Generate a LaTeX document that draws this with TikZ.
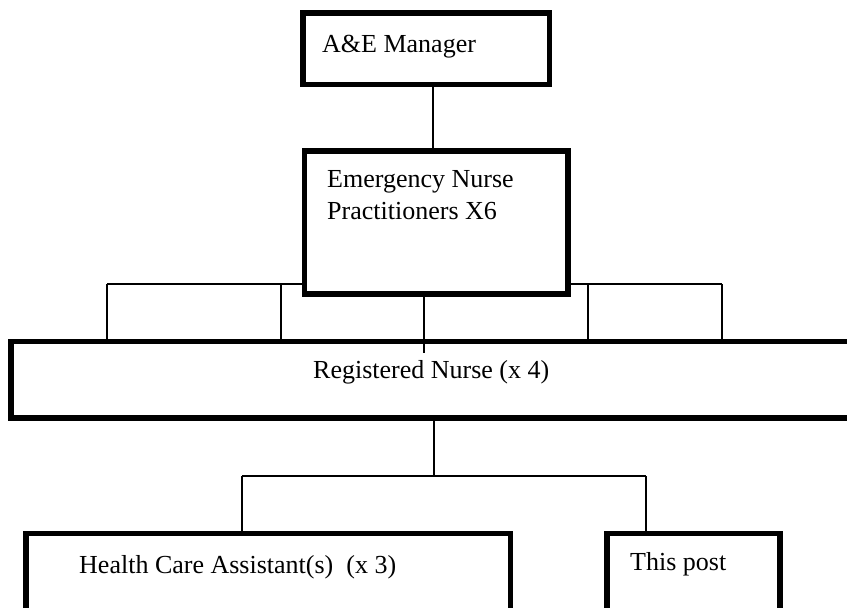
\documentclass[tikz,border=0pt]{standalone}
\usepackage{fontspec}
\setmainfont{Liberation Serif}
\begin{document}
\begin{tikzpicture}[x=1pt,y=-1pt,
  box/.style={draw=black,fill=white,line width=5.7pt,rectangle,inner sep=0pt,minimum width=#1},
  link/.style={draw=black,line width=1.8pt},
  lbl/.style={anchor=base west,inner sep=0pt,font=\fontsize{26}{31}\selectfont}]
\useasboundingbox (0,0) rectangle (847,608);
\clip (0,0) rectangle (847,608);
% boxes (sizes at border centre lines)
\node[box=246.5pt,minimum height=71.5pt] (am) at (426.25,48.75) {};
\node[box=263.5pt,minimum height=143pt] (enp) at (436.25,222.5) {};
\node[box=859pt,minimum height=76.5pt] (rn) at (440.5,379.75) {};
\node[box=484.5pt,minimum height=106.5pt] (hca) at (268.25,586.75) {};
\node[box=173pt,minimum height=106.5pt] (post) at (693.5,586.75) {};
% texts
\node[lbl] (tam) at (322,52) {A\&E Manager};
\node[lbl] (tenp1) at (327,187) {Emergency Nurse};
\node[lbl] (tenp2) at (327,219) {Practitioners X6};
\node[lbl] (trn) at (313,378) {Registered Nurse (x 4)};
\node[lbl] (thca) at (79,573) {Health Care Assistant(s)~~(x 3)};
\node[lbl] (tpost) at (630,570) {This post};
% helper coordinates
\coordinate (c1) at (433,0);
\coordinate (h1) at (107,284);
\coordinate (h2) at (281,284);
\coordinate (h3) at (424,284);
\coordinate (h4) at (588,284);
\coordinate (h5) at (722,284);
\coordinate (r1) at (434,476);
\coordinate (b1) at (242,476);
\coordinate (b2) at (646,476);
\coordinate (rt) at (424,353);
% connectors
\draw[link] (am.south -| c1) -- (enp.north -| c1);
\draw[link] (h1) -- (enp.west |- h1);
\draw[link] (enp.east |- h5) -- (h5);
\draw[link] (h1) -- (rn.north -| h1);
\draw[link] (h2) -- (rn.north -| h2);
\draw[link] (h4) -- (rn.north -| h4);
\draw[link] (h5) -- (rn.north -| h5);
\draw[link] (enp.south -| h3) -- (rt);
\draw[link] (rn.south -| r1) -- (r1);
\draw[link] (b1) -- (b2);
\draw[link] (b1) -- (hca.north -| b1);
\draw[link] (b2) -- (post.north -| b2);
\end{tikzpicture}
\end{document}
